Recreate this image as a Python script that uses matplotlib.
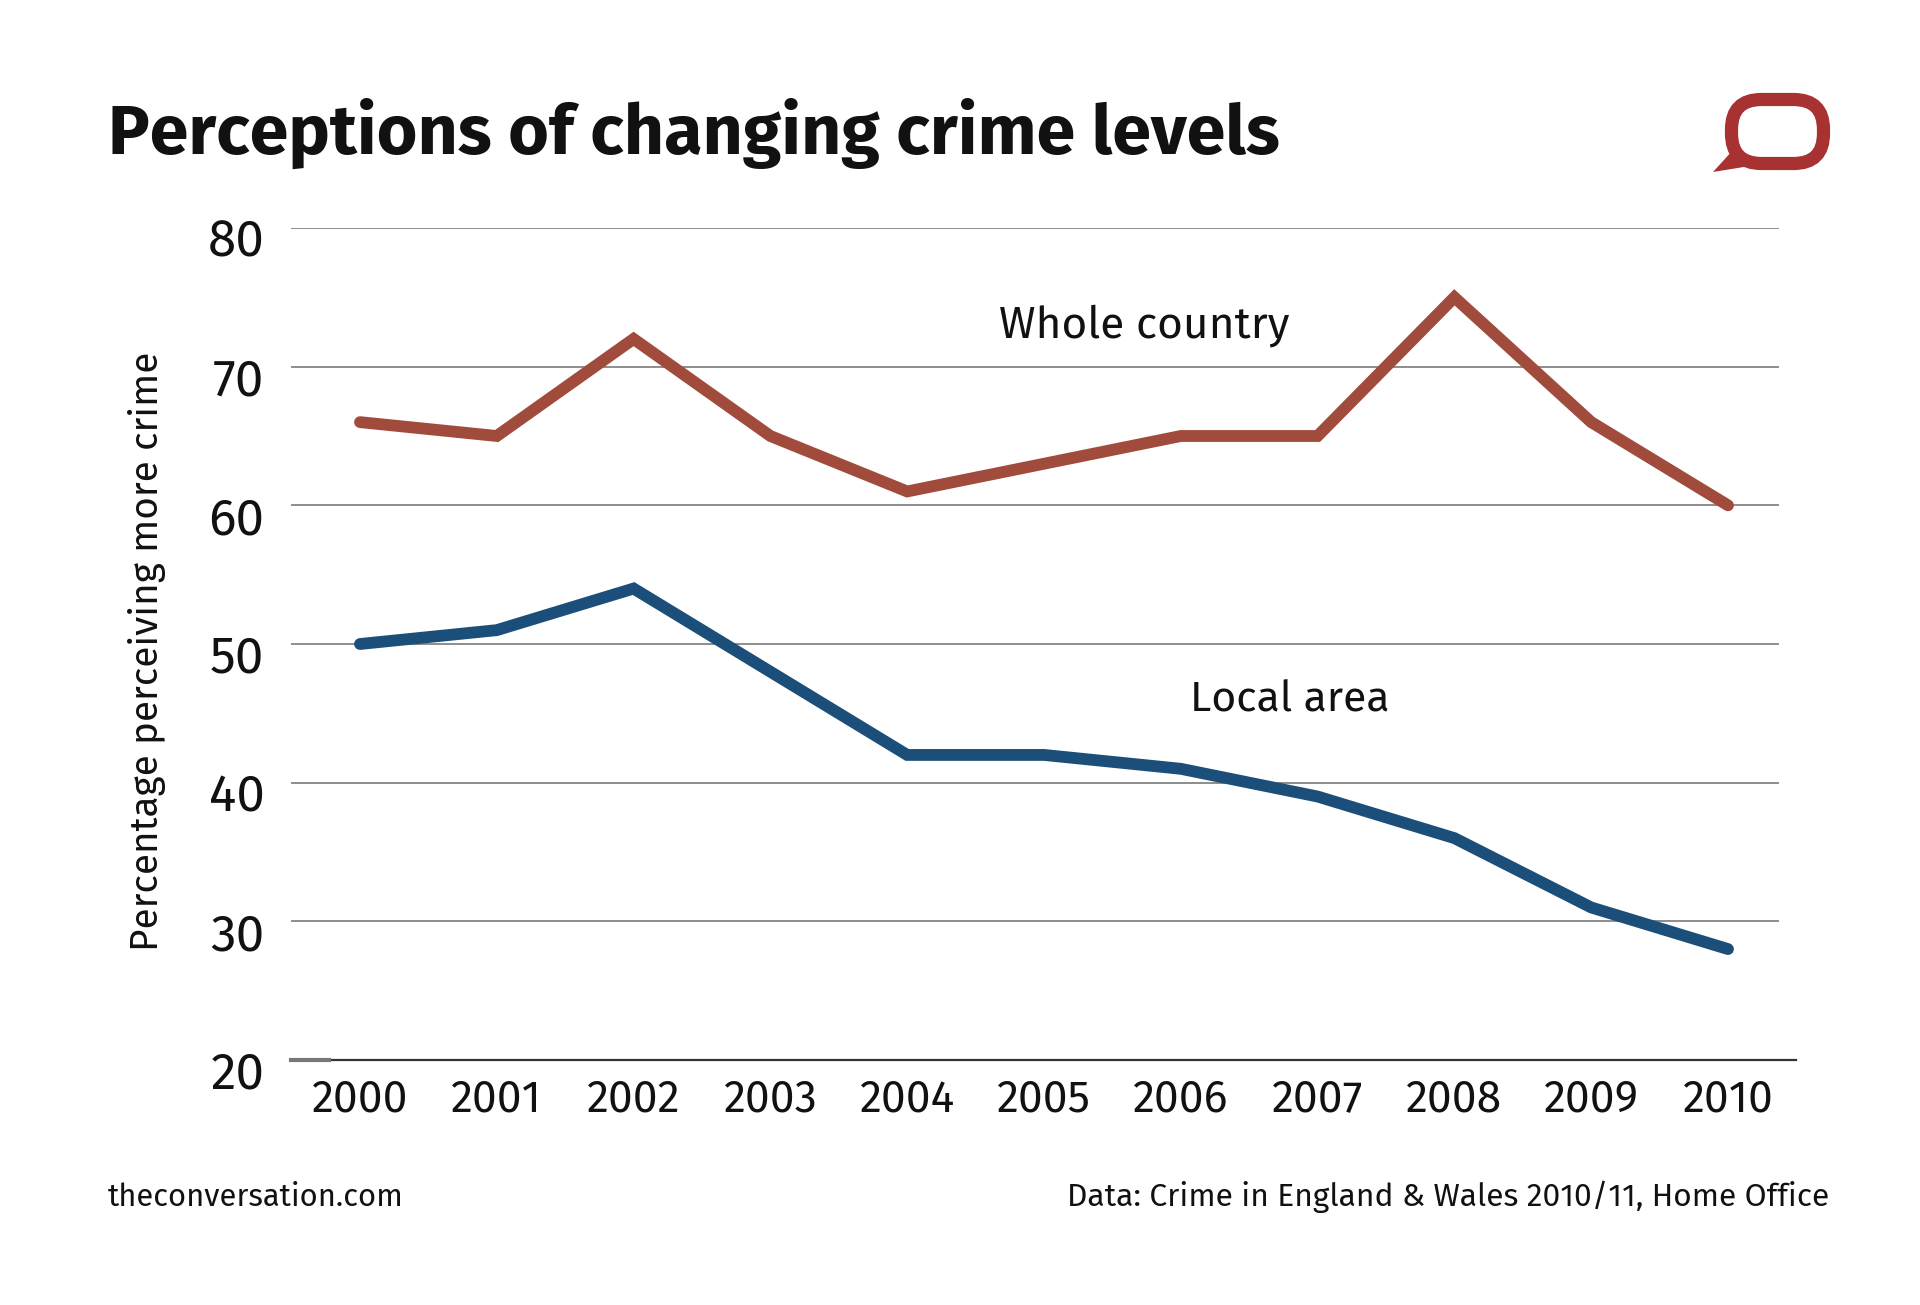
import numpy as np
import matplotlib
matplotlib.use("Agg")
import matplotlib.pyplot as plt
import matplotlib.transforms as mtransforms
from matplotlib.patches import FancyBboxPatch, Polygon

# Data ##########################################
years = [2000, 2001, 2002, 2003, 2004, 2005, 2006, 2007, 2008, 2009, 2010]
whole_country = [66, 65, 72, 65, 61, 63, 65, 65, 75, 66, 60]
local_area = [50, 51, 54, 48, 42, 42, 41, 39, 36, 31, 28]
y_ticks = [20, 30, 40, 50, 60, 70, 80]

RED = "#a04b3c"
BLUE = "#1b4f7a"
LOGO = "#a83232"
INK = "#111111"

W, H = 1920, 1305
fig = plt.figure(figsize=(W / 100, H / 100), dpi=100)
fig.patch.set_facecolor("white")

def fx(px):
    return px / W

def fy(py):
    return 1 - py / H

# Main axes (pixel placement) ###################
left, right, top, bottom = 291, 1796, 228, 1060
ax = fig.add_axes([fx(left), fy(bottom), fx(right - left), (bottom - top) / H])
step = (1728 - 360) / 10
x0 = 2000 - (360 - left) / step
x1 = 2010 + (right - 1728) / step
x_grid_end = 2010 + (1779 - 1728) / step
ax.set_xlim(x0, x1)
ax.set_ylim(20, 80)

for s in ["top", "right", "left"]:
    ax.spines[s].set_visible(False)
ax.spines["bottom"].set_color("#333333")
ax.spines["bottom"].set_linewidth(1.6)

ax.hlines(y_ticks[1:], x0, x_grid_end, color="#7a7a7a", lw=1.2, zorder=1)
ax.plot([x0, x0 + 38 / step], [20, 20], color="#777777", lw=3, clip_on=False, zorder=3)

ax.plot(years, whole_country, color=RED, lw=8.5, solid_capstyle="round",
        solid_joinstyle="miter", clip_on=False, zorder=4)
ax.plot(years, local_area, color=BLUE, lw=8.5, solid_capstyle="round",
        solid_joinstyle="miter", clip_on=False, zorder=4)

font = ["Fira Sans", "DejaVu Sans"]

ax.set_yticks(y_ticks)
ax.set_yticklabels([str(v) for v in y_ticks], fontsize=37, family=font, color=INK)
ax.set_xticks(years)
ax.set_xticklabels([str(y) for y in years], fontsize=32, family=font, color=INK)
ax.tick_params(axis="y", length=0, pad=19)
ax.tick_params(axis="x", length=0, pad=13)
shift = mtransforms.ScaledTranslation(0, -9.5 / 100, fig.dpi_scale_trans)
for lab in ax.get_yticklabels():
    lab.set_transform(lab.get_transform() + shift)
ax.set_facecolor("none")

# Overlay for texts and logo ####################
ov = fig.add_axes([0, 0, 1, 1])
ov.set_xlim(0, W)
ov.set_ylim(H, 0)
ov.axis("off")
ov.patch.set_alpha(0)

ov.text(108, 154, "Perceptions of changing crime levels", fontsize=50.3,
        fontweight="bold", family=font, color=INK, va="baseline")
ov.text(147, 651, "Percentage perceiving more crime", rotation=90, fontsize=27.8,
        family=font, color=INK, ha="center", va="center")
ov.text(1144, 338, "Whole country", fontsize=31.8, family=font, color=INK,
        ha="center", va="baseline")
ov.text(1290, 712, "Local area", fontsize=30.8, family=font, color=INK,
        ha="center", va="baseline")
ov.text(108, 1206, "theconversation.com", fontsize=22.3, family=font, color=INK,
        ha="left", va="baseline")
ov.text(1829, 1206, "Data: Crime in England & Wales 2010/11, Home Office", fontsize=22.9,
        family=font, color=INK, ha="right", va="baseline")

# Logo
ov.add_patch(FancyBboxPatch((1731.5, 99.5), 92, 64,
                            boxstyle="round,pad=0,rounding_size=30",
                            fill=False, ec=LOGO, lw=9.5))
ov.add_patch(Polygon([[1713, 172], [1733, 150], [1750, 166]], closed=True,
                     fc=LOGO, ec="none"))

fig.savefig("out.png", dpi=100, facecolor="white")
